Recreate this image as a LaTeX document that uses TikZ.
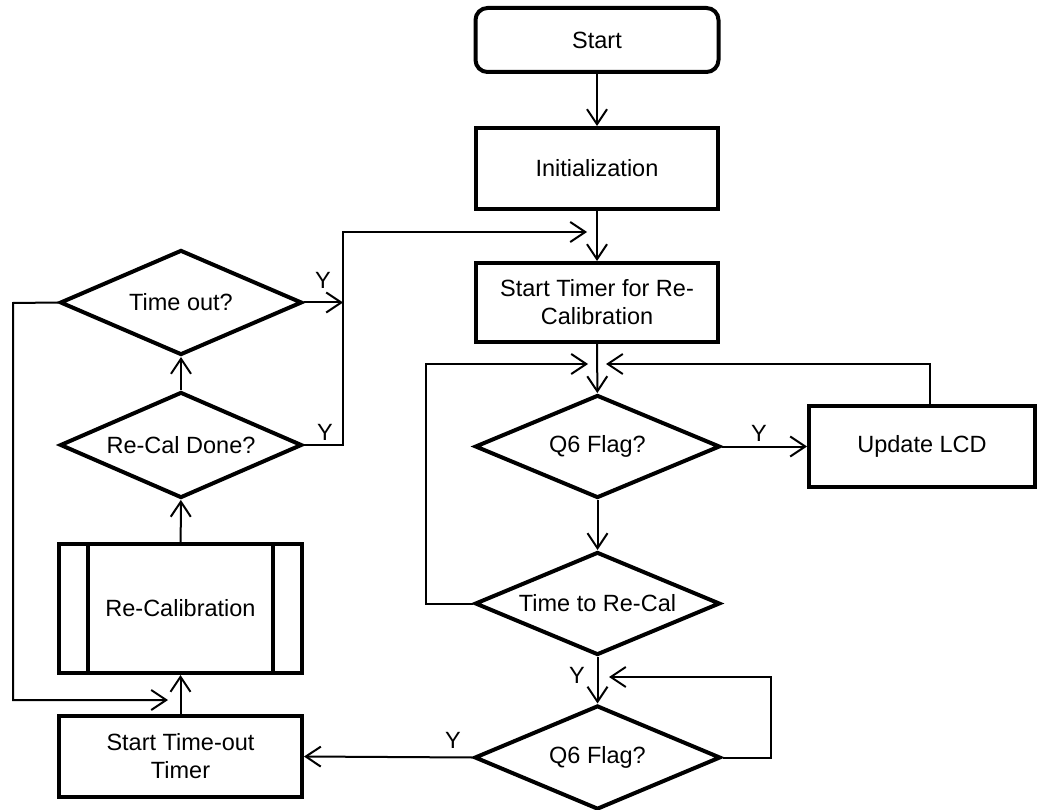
\documentclass[tikz,border=0pt]{standalone}
\usepackage{fontspec}
\setmainfont{Liberation Sans}
\usetikzlibrary{shapes.geometric,arrows.meta,calc}
\newcommand{\fsz}{\fontsize{23.5pt}{28pt}\selectfont}
\begin{document}
\begin{tikzpicture}[x=1pt,y=-1pt,
  box/.style={draw, line width=4pt, minimum width=242pt, minimum height=81pt, inner sep=0pt, font=\fsz, align=center},
  dec/.style={draw, diamond, line width=4pt, inner sep=0pt, font=\fsz, aspect=2.35},
  conn/.style={line width=2pt, -{Straight Barb[length=15pt,width=20pt]}},
  wire/.style={line width=2pt},
  lab/.style={font=\fsz, inner sep=0pt}]
\useasboundingbox (0,0) rectangle (1039,810);

% main column
\node[box, rounded corners=12pt, minimum width=243pt, minimum height=64pt] (start) at (597,40) {Start};
\node[box] (init) at (597,168.5) {Initialization};
\node[box, minimum height=79pt] (timer) at (597,302.5) {Start Timer for Re-\\Calibration};
\node[dec, minimum width=245pt, minimum height=103pt] (q6a) at (597.5,446.5) {Q6 Flag?};
\node[box, minimum width=226pt] (lcd) at (922,446.5) {Update LCD};
\node[dec, minimum width=245pt, minimum height=103pt] (ttr) at (597.5,603.5) {Time to Re-Cal};
\node[dec, minimum width=246pt, minimum height=104pt] (q6b) at (597.5,757.5) {Q6 Flag?};

% left column
\node[dec, minimum width=242pt, minimum height=105pt] (to) at (181,302.5) {Time out?};
\node[dec, minimum width=242pt, minimum height=106pt] (rcd) at (181,445) {Re-Cal Done?};
\node[box, minimum width=243pt, minimum height=129pt] (recal) at (180.5,608.5) {Re-Calibration};
\draw[line width=4pt] ([xshift=31pt]recal.north west) -- ([xshift=31pt]recal.south west);
\draw[line width=4pt] ([xshift=-31pt]recal.north east) -- ([xshift=-31pt]recal.south east);
\node[box, minimum width=243pt] (sto) at (180.5,756.5) {Start Time-out\\Timer};

% junction coordinates
\coordinate (jtop) at (343,232);
\coordinate (jtopend) at (587,232);
\coordinate (loopL) at (426,364);
\coordinate (loopLend) at (588,364);
\coordinate (loopRend) at (606,364);
\coordinate (lcdout) at ([xshift=8pt]lcd.north);
\coordinate (lcdup) at (930,364);
\coordinate (loopB) at (771,677);
\coordinate (loopBend) at (609,677);
\coordinate (farL) at (13,303);
\coordinate (farLend) at (168,700);

% connectors main column
\draw[conn] (start) -- (init);
\draw[conn] (init) -- (timer);
\draw[conn] (timer) -- (q6a);
\draw[conn] (q6a) -- (ttr);
\draw[conn] (ttr) -- (q6b);
\draw[conn] (q6a) -- (lcd);
\draw[conn] (lcdout) -- (lcdup) -- (loopRend);
\draw[conn] (ttr.west) -| (loopL) -- (loopLend);
\draw[conn] (q6b.east) -| (loopB) -- (loopBend);
\draw[conn] (q6b.west) -- (sto.east);

% connectors left column
\draw[conn] (rcd.east) -| (jtop) -- (jtopend);
\draw[conn] (to.east) -- (to.east -| jtop);
\draw[conn] (rcd) -- (to);
\draw[conn] (recal) -- (rcd);
\draw[conn] (sto) -- (recal);
\draw[conn] (to.west) -- (farL) |- (farLend);

% labels
\node[lab] (y1) at (323,280) {Y};
\node[lab] (y2) at (325,432) {Y};
\node[lab] (y3) at (759,433) {Y};
\node[lab] (y4) at (577,675) {Y};
\node[lab] (y5) at (453,740) {Y};
\end{tikzpicture}
\end{document}
